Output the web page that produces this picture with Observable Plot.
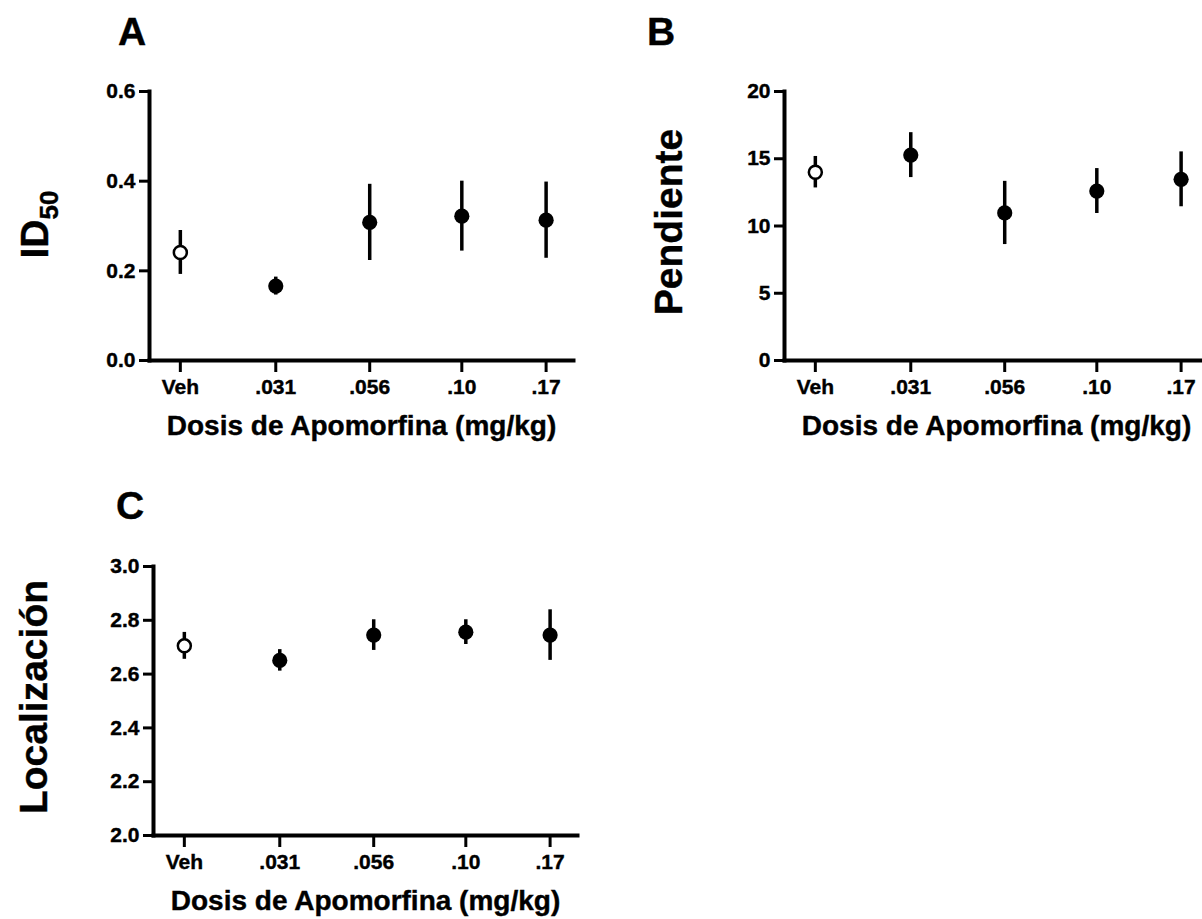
<!DOCTYPE html>
<html>
<head>
<meta charset="utf-8">
<script src="https://cdn.jsdelivr.net/npm/d3@7"></script>
<script src="https://cdn.jsdelivr.net/npm/@observablehq/plot@0.6"></script>
<style>
  html, body { margin: 0; padding: 0; background: #fff; overflow: hidden; }
  #fig { position: relative; width: 1202px; height: 919px; overflow: hidden;
         font-family: "Liberation Sans", Arial, sans-serif; color: #000; }
  .panel { position: absolute; }
  .letter { position: absolute; font-weight: bold; font-size: 39px; line-height: 39px;
            -webkit-text-stroke: 0.4px #000; }
  /* slightly heavier glyphs for all chart text */
  #fig svg text { stroke: #000; stroke-width: 0.4px; }
</style>
</head>
<body>
<div id="fig">
  <div class="letter" style="left:118px; top:12px;">A</div>
  <div class="letter" style="left:647px; top:12px;">B</div>
  <div class="letter" style="left:116px; top:486px;">C</div>
  <div class="panel" id="panelA" style="left:0px; top:0px;"></div>
  <div class="panel" id="panelB" style="left:600px; top:0px;"></div>
  <div class="panel" id="panelC" style="left:0px; top:460px;"></div>
</div>
<script>
// Apomorphine doses (mg/kg); vehicle sits half a log step left of the lowest dose
const doses = [0.017, 0.031, 0.056, 0.10, 0.17];
const doseLabels = ["Veh", ".031", ".056", ".10", ".17"];
const xTitle = "Dosis de Apomorfina (mg/kg)";

// A: ID50 (mean ± SEM)
const id50Mean = [0.241, 0.166, 0.308, 0.322, 0.313];
const id50Sem  = [0.049, 0.020, 0.085, 0.078, 0.085];
const id50Ticks = [0, 0.2, 0.4, 0.6];

// B: slope (mean ± SEM)
const slopeMean = [14.0, 15.27, 10.97, 12.6, 13.47];
const slopeSem  = [1.17, 1.67, 2.35, 1.67, 2.04];
const slopeTicks = [0, 5, 10, 15, 20];

// C: location (mean ± SEM)
const locMean = [2.705, 2.651, 2.745, 2.756, 2.745];
const locSem  = [0.050, 0.040, 0.057, 0.046, 0.094];
const locTicks = [2.0, 2.2, 2.4, 2.6, 2.8, 3.0];

const xDomain = [0.014, 0.202];
const doseLabel = d => doseLabels[doses.findIndex(v => Math.abs(v - d) < 1e-6)];
const font = "'Liberation Sans', Arial, Helvetica, sans-serif";

function makePanel(o) {
  const rows = doses.map((d, i) => ({
    dose: d,
    mean: o.mean[i],
    lo: o.mean[i] - o.sem[i],
    hi: o.mean[i] + o.sem[i],
    vehicle: doseLabels[i] === "Veh"
  }));
  return Plot.plot({
    width: o.width,
    height: o.height,
    marginLeft: o.ml, marginRight: o.mr, marginTop: o.mt, marginBottom: o.mb,
    style: {
      fontFamily: font, fontSize: "21px", fontWeight: "bold", color: "black",
      background: "transparent", maxWidth: "none", overflow: "visible"
    },
    x: { type: "log", domain: xDomain, label: null },
    y: { domain: o.yDomain, label: null },
    marks: [
      Plot.frame({ anchor: "left", strokeWidth: 4, strokeLinecap: "square" }),
      Plot.frame({ anchor: "bottom", strokeWidth: 4, strokeLinecap: "square" }),
      Plot.axisY(o.yTicks, {
        tickSize: 10, tickPadding: 4, strokeWidth: 3,
        fontSize: 21, fontWeight: "bold", tickFormat: o.yFormat, label: null
      }),
      Plot.axisX(doses, {
        tickSize: 12, tickPadding: 7, strokeWidth: 3,
        fontSize: 21, fontWeight: "bold", text: doseLabel, label: null
      }),
      Plot.ruleX(rows, { x: "dose", y1: "lo", y2: "hi", strokeWidth: 3.5 }),
      Plot.dot(rows.filter(r => !r.vehicle), { x: "dose", y: "mean", r: 7.6, fill: "black", stroke: "none" }),
      Plot.dot(rows.filter(r => r.vehicle), { x: "dose", y: "mean", r: 6.5, fill: "white", stroke: "black", strokeWidth: 2.5 }),
      Plot.text([xTitle], {
        text: d => d, frameAnchor: "bottom", textAnchor: "middle", lineAnchor: "middle", dy: 66,
        fontSize: 28, fontWeight: "bold"
      }),
      ...o.yTitle
    ]
  });
}

const yTitle = (label, dx, dy) => [
  Plot.text([label], {
    text: d => d, frameAnchor: "left", rotate: -90, textAnchor: "middle", lineAnchor: "middle",
    dx, dy, fontSize: 39, fontWeight: "bold"
  })
];

// ID with subscript 50, drawn as two runs reading upward
const id50Title = [
  Plot.text(["ID"], {
    text: d => d, frameAnchor: "left", rotate: -90, textAnchor: "start", lineAnchor: "middle",
    dx: -113.5, dy: 32.5, fontSize: 39, fontWeight: "bold"
  }),
  Plot.text(["50"], {
    text: d => d, frameAnchor: "left", rotate: -90, textAnchor: "start", lineAnchor: "middle",
    dx: -100.3, dy: -6.5, fontSize: 26, fontWeight: "bold"
  })
];

document.getElementById("panelA").append(makePanel({
  mean: id50Mean, sem: id50Sem, yDomain: [0, 0.6], yTicks: id50Ticks, yFormat: d3.format(".1f"),
  width: 600, height: 460, ml: 149, mr: 27, mt: 91, mb: 100,
  yTitle: id50Title
}));

document.getElementById("panelB").append(makePanel({
  mean: slopeMean, sem: slopeSem, yDomain: [0, 20], yTicks: slopeTicks, yFormat: d3.format("d"),
  width: 610, height: 460, ml: 184, mr: 2, mt: 91, mb: 100,
  yTitle: yTitle("Pendiente", -114.5, -4)
}));

document.getElementById("panelC").append(makePanel({
  mean: locMean, sem: locSem, yDomain: [2, 3], yTicks: locTicks, yFormat: d3.format(".1f"),
  width: 600, height: 459, ml: 153, mr: 23, mt: 106, mb: 84,
  yTitle: yTitle("Localización", -118.5, -4)
}));
</script>
</body>
</html>
